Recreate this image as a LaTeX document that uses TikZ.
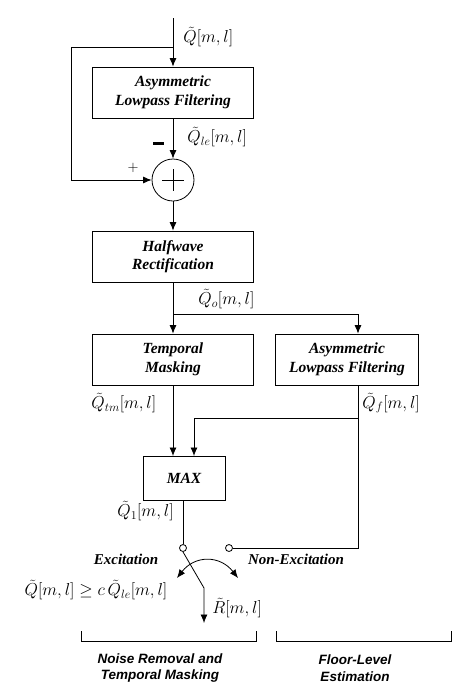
\documentclass[tikz,border=0pt]{standalone}
\usepackage[no-math]{fontspec}
\setmainfont{Liberation Serif}
\newfontfamily\lsans{Liberation Sans}
\usetikzlibrary{arrows.meta}
\begin{document}
\begin{tikzpicture}[x=1pt,y=-1pt, line width=0.8pt,
  blk/.style={draw, font=\fontsize{15.5}{18.5}\selectfont\bfseries\itshape, align=center, inner sep=0pt},
  arr/.style={-{Latex[length=8.5pt,width=7pt]}},
  lbl/.style={font=\fontsize{18}{21}\selectfont, inner sep=0pt},
  captxt/.style={font=\fontsize{15}{18}\selectfont\bfseries\itshape, inner sep=0pt},
  grp/.style={font=\lsans\fontsize{13.5}{17}\selectfont\bfseries\itshape, align=center, inner sep=0pt},
  sw/.style={draw, circle, fill=white, minimum size=7pt, inner sep=0pt}]
\useasboundingbox (0,0) rectangle (471,694);
% boxes
\node[blk, minimum width=161pt, minimum height=51pt] (b1) at (173,92.5) {Asymmetric\\Lowpass Filtering};
\node[draw, circle, minimum size=42pt, inner sep=0pt] (sum) at (173,180) {};
\draw (162,180) -- (184,180) (173,169) -- (173,191);
\node[blk, minimum width=161pt, minimum height=51pt] (b2) at (173,256.5) {Halfwave\\Rectification};
\node[blk, minimum width=161pt, minimum height=51pt] (b3) at (173,359.5) {Temporal\\Masking};
\node[blk, minimum width=143pt, minimum height=51pt] (b4) at (347,359.5) {Asymmetric\\Lowpass Filtering};
\node[blk, minimum width=82pt, minimum height=44pt] (mx) at (184,478) {MAX};
% coordinates
\coordinate (in) at (173,18);
\coordinate (fb) at (173,47);
\coordinate (fb1) at (71,47);
\coordinate (fb2) at (71,180);
\coordinate (sp) at (173,314);
\coordinate (sp2) at (358,314);
\coordinate (b4o) at (358,385);
\coordinate (jn) at (358,418);
\coordinate (jn2) at (194,418);
\coordinate (jn3) at (194,456);
\coordinate (m3) at (173,385);
\coordinate (m4) at (173,456);
\coordinate (mo) at (183,500);
\node[sw] (s1) at (183,548) {};
\node[sw] (s2) at (229,548) {};
\coordinate (s2r) at (358,548);
\coordinate (k1) at (204,588);
\coordinate (out) at (204,623);
% connectors
\draw[arr] (in) -- (b1.north);
\draw[arr] (fb) -- (fb1) -- (fb2) -- (sum.west);
\draw[arr] (b1.south) -- (sum.north);
\draw[arr] (sum.south) -- (b2.north);
\draw (b2.south) -- (sp);
\draw[arr] (sp) -- (b3.north);
\draw[arr] (sp) -- (sp2) -- (sp2 |- b4.north);
\draw[arr] (m3) -- (m4);
\draw (b4o) -- (s2r) -- (s2.east);
\draw[arr] (jn) -- (jn2) -- (jn3);
\draw (mo) -- (s1.north);
\draw[arr] (s1.south) -- (k1) -- (out);
\coordinate (cl) at (177,578);
\coordinate (cr) at (238,578);
\draw[{Latex[length=8.5pt,width=7pt]}-{Latex[length=8.5pt,width=7pt]}] (cl) .. controls (195,555) and (220,555) .. (cr);
% labels
\node[lbl, anchor=west] (lq) at (183,37) {$\tilde{Q}[m,l]$};
\node[lbl, anchor=west] (lqle) at (187,137) {$\tilde{Q}_{le}[m,l]$};
\fill (153,141.5) rectangle (164,145);
\node[font=\fontsize{15}{15}\selectfont, inner sep=0pt] (plus) at (133,168) {$+$};
\node[lbl, anchor=west] (lqo) at (198,299) {$\tilde{Q}_{o}[m,l]$};
\node[lbl, anchor=west] (lqtm) at (91,403) {$\tilde{Q}_{tm}[m,l]$};
\node[lbl, anchor=west] (lqf) at (362,403) {$\tilde{Q}_{f}[m,l]$};
\node[lbl, anchor=east] (lq1) at (174,511) {$\tilde{Q}_{1}[m,l]$};
\node[captxt] (exc) at (126,559) {Excitation};
\node[captxt] (nexc) at (296,559) {Non-Excitation};
\node[lbl] (cond) at (96,590) {$\tilde{Q}[m,l]\geq c\,\tilde{Q}_{le}[m,l]$};
\node[lbl, anchor=west] (lr) at (212,608) {$\tilde{R}[m,l]$};
% brackets
\draw (81,631) -- (81,641) -- (256,641) -- (256,631);
\draw (276,631) -- (276,641) -- (451,641) -- (451,631);
\node[grp] (g1) at (160,668) {Noise Removal and\\Temporal Masking};
\node[grp] (g2) at (355,668) {Floor-Level\\Estimation};
\end{tikzpicture}
\end{document}
